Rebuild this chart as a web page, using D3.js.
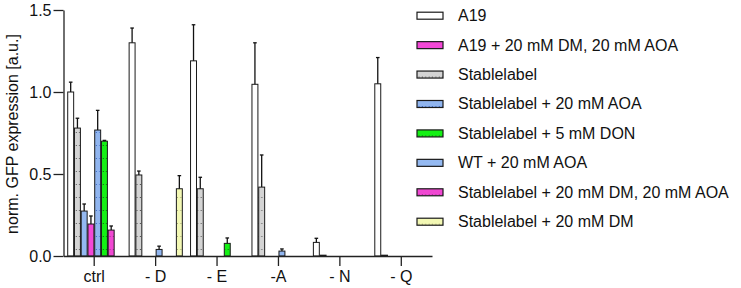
<!DOCTYPE html>
<html>
<head>
<meta charset="utf-8">
<script src="https://cdn.jsdelivr.net/npm/d3@7"></script>
<style>
  body { margin: 0; background: #fff; }
  text { font-family: "Liberation Sans", Arial, sans-serif; }
</style>
</head>
<body>
<div id="chart"></div>
<script>
// categories on the x axis
const categories = ["ctrl", "- D", "- E", "-A", "- N", "- Q"]
const yTicks = [0.0, 0.5, 1.0, 1.5]

// series names (legend order)
const seriesNames = [
    "A19",
    "A19 + 20 mM DM, 20 mM AOA",
    "Stablelabel",
    "Stablelabel + 20 mM AOA",
    "Stablelabel + 5 mM DON",
    "WT + 20 mM AOA",
    "Stablelabel + 20 mM DM, 20 mM AOA",
    "Stablelabel + 20 mM DM"
]

// order of the bars inside each group (indexes into seriesNames)
const barOrder = [0, 2, 5, 1, 3, 4, 6, 7]

// mean values, one per category (null = not measured)
const a19 = [1.00, 1.30, 1.19, 1.047, 0.083, 1.05]
const a19DmAoa = [0.195, null, null, null, null, null]
const stable = [0.78, 0.494, 0.41, 0.42, 0.005, 0.005]
const stableAoa = [0.768, 0.04, null, 0.03, null, null]
const stableDon = [0.70, null, 0.077, null, null, null]
const wtAoa = [0.274, null, null, null, null, null]
const stableDmAoa = [0.158, null, null, null, null, null]
const stableDm = [null, 0.41, null, null, null, null]

// upper error (SD)
const a19Err = [0.06, 0.09, 0.22, 0.253, 0.025, 0.16]
const a19DmAoaErr = [0.049, null, null, null, null, null]
const stableErr = [0.06, 0.024, 0.07, 0.196, 0, 0]
const stableAoaErr = [0.12, 0.02, null, 0.013, null, null]
const stableDonErr = [0.005, null, 0.033, null, null, null]
const wtAoaErr = [0.043, null, null, null, null, null]
const stableDmAoaErr = [0.025, null, null, null, null, null]
const stableDmErr = [null, 0.08, null, null, null, null]

const values = [a19, a19DmAoa, stable, stableAoa, stableDon, wtAoa, stableDmAoa, stableDm]
const errors = [a19Err, a19DmAoaErr, stableErr, stableAoaErr, stableDonErr, wtAoaErr, stableDmAoaErr, stableDmErr]

// fill colours and dot colours (null = no dots)
const fills = ["#ffffff", "#f348d6", "#d4d4d4", "#90b5ef", "#14f014", "#94b9f1", "#f048d2", "#f3f8b4"]
const dots = [null, null, "#555", "#3a66c4", "#116611", null, "#9a2a90", "#a0a070"]

const width = 741, height = 288
const svg = d3.select("#chart").append("svg")
    .attr("width", width)
    .attr("height", height)

// sparse dot patterns
let defs = svg.append("defs")
fills.forEach((f, i) => {
    if (!dots[i]) return
    let p = defs.append("pattern")
        .attr("id", "pat" + i)
        .attr("patternUnits", "userSpaceOnUse")
        .attr("width", 3.375)
        .attr("height", 13)
    p.append("rect").attr("width", 3.375).attr("height", 13).attr("fill", f)
    p.append("rect").attr("x", 1.5).attr("y", 2).attr("width", 1).attr("height", 1).attr("fill", dots[i])
})
const fillOf = i => dots[i] ? "url(#pat" + i + ")" : fills[i]

// scales
let x = d3.scaleBand()
    .domain(categories)
    .range([63.5, 432])

let xInner = d3.scaleBand()
    .domain(barOrder)
    .range([-27, 27])

let y = d3.scaleLinear()
    .domain([0, 1.5])
    .range([256, 10])

// bars
let bars = []
categories.forEach((c, ci) => {
    barOrder.forEach(s => {
        if (values[s][ci] == null) return
        bars.push({ cat: c, s: s, v: values[s][ci], e: errors[s][ci] || 0 })
    })
})

let g = svg.append("g")

g.selectAll(".bar")
    .data(bars)
    .enter().append("rect")
    .attr("class", "bar")
    .attr("x", d => x(d.cat) + x.bandwidth() / 2 + xInner(d.s) + 0.5)
    .attr("y", d => y(d.v))
    .attr("width", xInner.bandwidth() - 0.8)
    .attr("height", d => y(0) - y(d.v))
    .attr("fill", d => fillOf(d.s))
    .attr("stroke", "#1a1a1a")
    .attr("stroke-width", 1)

// error bars (upper only)
let err = g.selectAll(".err")
    .data(bars.filter(d => d.e > 0))
    .enter().append("g")
    .attr("class", "err")
    .attr("transform", d => "translate(" + (x(d.cat) + x.bandwidth() / 2 + xInner(d.s) + xInner.bandwidth() / 2 + 0.1) + ",0)")

err.append("line")
    .attr("y1", d => y(d.v))
    .attr("y2", d => y(d.v + d.e))
    .attr("stroke", "#111")
    .attr("stroke-width", 1.3)

err.append("line")
    .attr("x1", -1.8)
    .attr("x2", 1.8)
    .attr("y1", d => y(d.v + d.e))
    .attr("y2", d => y(d.v + d.e))
    .attr("stroke", "#111")
    .attr("stroke-width", 1.3)

// axes
svg.append("g")
    .attr("transform", "translate(63.5,0)")
    .call(d3.axisLeft(y).tickValues(yTicks).tickFormat(d3.format(".1f")).tickSize(10).tickPadding(2).tickSizeOuter(0))

svg.append("g")
    .attr("transform", "translate(0,256)")
    .call(d3.axisBottom(x).tickSize(10).tickPadding(5).tickSizeOuter(0))

svg.selectAll(".domain, .tick line")
    .attr("stroke", "#222")
    .attr("stroke-width", 1.3)
svg.selectAll(".tick text")
    .attr("font-size", 16)
    .attr("font-family", "'Liberation Sans', Arial, sans-serif")
    .attr("fill", "#111")

// y axis title
svg.append("text")
    .attr("transform", "translate(18,134) rotate(-90)")
    .attr("text-anchor", "middle")
    .attr("font-size", 16)
    .attr("fill", "#111")
    .text("norm. GFP expression [a.u.]")

// legend
let legend = svg.append("g")
    .selectAll("g")
    .data(seriesNames)
    .enter().append("g")
    .attr("transform", (d, i) => "translate(417," + (15.7 + i * 29.43) + ")")

legend.append("rect")
    .attr("x", 0)
    .attr("y", -3.5)
    .attr("width", 26)
    .attr("height", 7)
    .attr("fill", (d, i) => fillOf(i))
    .attr("stroke", "#1a1a1a")
    .attr("stroke-width", 1.2)

legend.append("text")
    .attr("x", 41)
    .attr("y", 5.5)
    .attr("font-size", 16)
    .attr("fill", "#111")
    .text(d => d)
</script>
</body>
</html>
